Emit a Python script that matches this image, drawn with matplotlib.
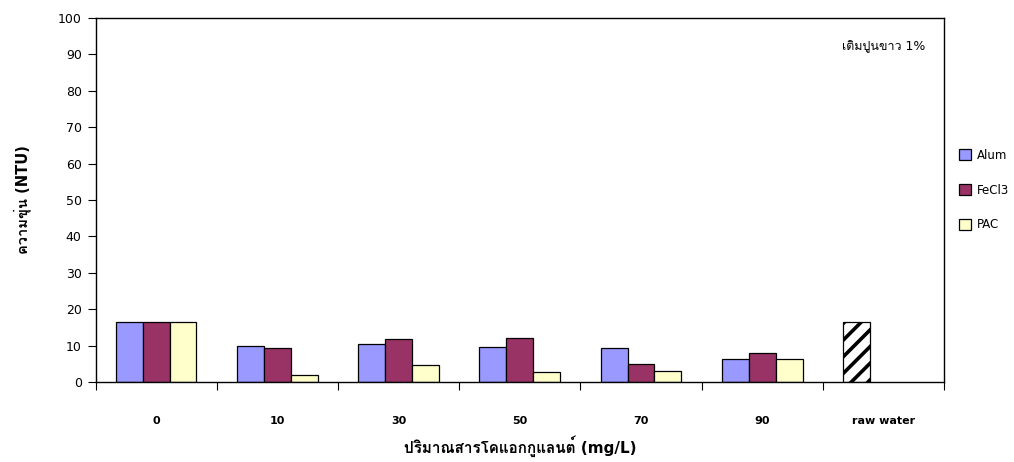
import numpy as np
import matplotlib
matplotlib.use('Agg')
import matplotlib.pyplot as plt
from matplotlib import font_manager

# Latin text in DejaVu, Thai glyphs from whichever Thai family is installed
thai_fonts = []
for f in font_manager.fontManager.ttflist:
    if 'Thai' in f.name or 'Tlwg' in f.name or 'Garuda' in f.name or 'Loma' in f.name:
        if f.name not in thai_fonts:
            thai_fonts.append(f.name)

plt.rcParams['font.family'] = ['DejaVu Sans'] + thai_fonts
plt.rcParams['hatch.linewidth'] = 2.6

categories = ['0', '10', '30', '50', '70', '90', 'raw water']
alum = [16.5, 9.8, 10.3, 9.6, 9.2, 6.3]
fecl3 = [16.5, 9.3, 11.8, 12.1, 4.9, 8.1]
pac = [16.5, 1.8, 4.7, 2.8, 3.0, 6.3]
raw_water = 16.5

fig = plt.figure(figsize=(10.14, 4.62), dpi=100)
ax = fig.add_axes([0.0942, 0.1732, 0.8368, 0.7878])

x = np.arange(len(categories))
w = 0.222
n = len(alum)
ax.bar(x[:n] - w, alum, w, color='#9999FF', edgecolor='black', linewidth=0.9, label='Alum')
ax.bar(x[:n], fecl3, w, color='#993366', edgecolor='black', linewidth=0.9, label='FeCl3')
ax.bar(x[:n] + w, pac, w, color='#FFFFCC', edgecolor='black', linewidth=0.9, label='PAC')
ax.bar(x[n] - w, raw_water, w, color='white', edgecolor='black', linewidth=0.9, hatch='//')

ax.set_xlim(-0.5, len(categories) - 0.5)
ax.set_ylim(0, 100)
ax.set_yticks(range(0, 101, 10))
ax.tick_params(axis='y', labelsize=9, length=6, width=0.8, direction='out', pad=4)
ax.set_xticks(np.arange(len(categories) + 1) - 0.5)
ax.set_xticklabels([])
ax.tick_params(axis='x', length=6, width=0.8, direction='out')
for i, c in enumerate(categories):
    ax.text(i, -10.7, c, ha='center', va='center', fontsize=8, fontweight='bold')
for s in ax.spines.values():
    s.set_linewidth(1.0)

ax.set_ylabel('ความขุ่น (NTU)', fontsize=10.5, fontweight='bold', labelpad=19)
ax.text(3.0, -17.6, 'ปริมาณสารโคแอกกูแลนต์ (mg/L)', ha='center', va='center',
        fontsize=11, fontweight='bold')
ax.text(6.35, 92.1, 'เติมปูนขาว 1%', ha='right', va='center', fontsize=9)

ax.legend(loc='upper left', bbox_to_anchor=(1.005, 0.67), frameon=False, fontsize=8.5,
          handlelength=1.0, handleheight=1.0, handletextpad=0.5, labelspacing=1.85)

fig.savefig('out.png', dpi=100)
